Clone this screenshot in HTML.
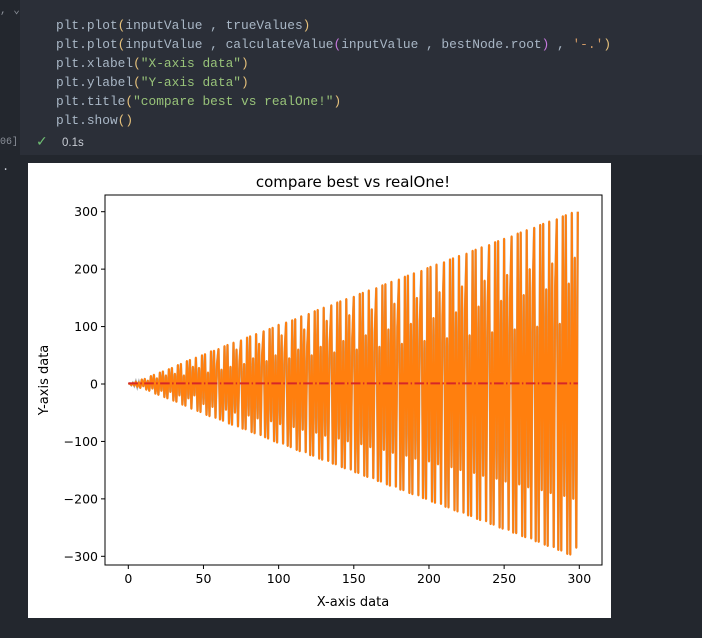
<!DOCTYPE html>
<html><head><meta charset="utf-8"><style>
body{margin:0;width:702px;height:638px;background:#23272e;overflow:hidden;position:relative;font-family:"Liberation Mono",monospace}
.cell{position:absolute;left:20px;top:0;width:682px;height:155px;background:#2b2f38}
.code{position:absolute;left:56px;top:16px;font-size:12.85px;line-height:19px;color:#a9b7c6;white-space:pre}
.y{color:#e5c07b}.p{color:#c678dd}.s{color:#98c379}.o{color:#d19a66}
.fig{position:absolute;left:28px;top:163px;width:583px;height:455px;background:#fff}
</style></head><body>
<div class="cell"></div>
<div style="position:absolute;left:0;top:3px;color:#8a8f98;font-size:11px">, ⌄</div>
<div class="code">plt.plot<span class="y">(</span>inputValue , trueValues<span class="y">)</span>
plt.plot<span class="y">(</span>inputValue , calculateValue<span class="p">(</span>inputValue , bestNode.root<span class="p">)</span> , <span class="o">'-.'</span><span class="y">)</span>
plt.xlabel<span class="y">(</span><span class="s">"X-axis data"</span><span class="y">)</span>
plt.ylabel<span class="y">(</span><span class="s">"Y-axis data"</span><span class="y">)</span>
plt.title<span class="y">(</span><span class="s">"compare best vs realOne!"</span><span class="y">)</span>
plt.show<span class="y">()</span></div>
<div style="position:absolute;left:0;top:137px;color:#8a8f98;font-size:10px">06]</div>
<div style="position:absolute;left:36px;top:134px;color:#6fbf73;font-size:14px;font-family:'DejaVu Sans',sans-serif">✓</div>
<div style="position:absolute;left:62px;top:137px;color:#c8ccd4;font-size:11.5px;font-family:'Liberation Sans',sans-serif">0.1s</div>
<div style="position:absolute;left:2px;top:160px;color:#c8ccd4;font-size:12px">.</div>
<div class="fig"></div>
<svg id="chart" width="702" height="638" style="position:absolute;left:0;top:0" font-family="DejaVu Sans, Liberation Sans, sans-serif"></svg>
<script>
const trueValues=[0,1,-2,2,-3,4,-5,3,-7,8,-4,9,-10,6,-12,
14,-8,16,-17,10,-19,20,-12,22,-23,15,-25,26,-14,28,
-29,18,-31,33,-20,35,-36,15,-38,40,-25,42,-43,30,-20,
46,-47,28,-49,50,-35,52,-54,20,-56,57,-40,58,-59,35,
61,-62,25,-64,66,-45,68,-69,30,-71,72,-50,60,-74,40,
76,-78,35,-79,81,-55,83,-84,45,-86,87,-60,70,-89,50,
92,-93,40,-95,96,-65,98,-100,50,-102,103,-70,85,-104,55,
107,-108,45,-110,111,-75,113,-115,60,-117,118,-80,95,-119,65,
122,-124,50,-125,127,-85,129,-130,65,-132,133,-90,110,-134,70,
137,-139,55,-140,142,-95,144,-145,75,-147,148,-100,120,-149,80,
152,-154,60,-155,157,-105,159,-160,85,-162,163,-110,130,-164,90,
167,-169,65,-170,172,-115,174,-175,95,-177,178,-120,140,-179,100,
182,-184,70,-185,187,-125,189,-190,105,-192,193,-130,150,-194,110,
197,-199,75,-200,202,-135,204,-205,115,-207,208,-140,160,-209,120,
212,-214,80,-215,217,-145,219,-220,125,-222,223,-150,170,-224,130,
227,-229,85,-230,232,-155,234,-235,135,-237,238,-160,180,-239,140,
242,-244,90,-245,247,-165,249,-250,145,-252,253,-170,190,-254,150,
257,-259,95,-260,262,-175,264,-265,155,-267,268,-180,200,-269,160,
272,-274,100,-275,277,-185,279,-280,165,-282,283,-190,210,-284,170,
287,-289,105,-290,292,-195,294,-296,175,-297,298,-200,220,-285,300];
const bestValue=[1,1];
const bestX=[0,299];
const xTicks=[0,50,100,150,200,250,300];
const yTicks=[-300,-200,-100,0,100,200,300];
const NS="http://www.w3.org/2000/svg";
const svg=document.getElementById('chart');
const L=105,R=602,T=195,B=565;
const nPts=trueValues.length;
const inputValue=trueValues.map((v,i)=>i*299/(nPts-1));
const sx=v=>128.3+(v)*(579.3-128.3)/300;
const sy=v=>384-v*(384-211.7)/300;
function mk(t,a){const e=document.createElementNS(NS,t);for(const k in a)e.setAttribute(k,a[k]);svg.appendChild(e);return e;}
let d=inputValue.map((x,i)=>(i?'L':'M')+sx(x).toFixed(1)+','+sy(trueValues[i]).toFixed(1)).join('');
const blue=mk('path',{d:d,fill:'none',stroke:'#aaaaaa','stroke-width':2.4});


const org=mk('path',{d:d,fill:'none',stroke:'#ff7f0e','stroke-width':2,'stroke-linejoin':'round'});


const red=mk('path',{d:'M'+sx(bestX[0])+','+sy(bestValue[0])+'L'+sx(bestX[1])+','+sy(bestValue[1]),stroke:'#d62728','stroke-width':2,'stroke-dasharray':'9.6,2.4,1.5,2.4',fill:'none'});


const fr=mk('rect',{x:L,y:T,width:R-L,height:B-T,fill:'none',stroke:'#000','stroke-width':1});


xTicks.forEach(v=>{const x=sx(v);
const tk=mk('line',{x1:x,x2:x,y1:B,y2:B+4,stroke:'#000'});


const t=mk('text',{x:x,y:B+18,'font-size':12.5,'text-anchor':'middle',fill:'#000'});t.textContent=v;

});
yTicks.forEach(v=>{const y=sy(v);
const tk=mk('line',{x1:L-4,x2:L,y1:y,y2:y,stroke:'#000'});


const t=mk('text',{x:L-7,y:y+4.5,'font-size':12.5,'text-anchor':'end',fill:'#000'});t.textContent=v<0?'\u2212'+(-v):v;

});
const ti=mk('text',{x:353,y:187,'font-size':15,'text-anchor':'middle',fill:'#000'});ti.textContent='compare best vs realOne!';


const xl=mk('text',{x:353,y:606,'font-size':13,'text-anchor':'middle',fill:'#000'});xl.textContent='X-axis data';


const yl=mk('text',{x:48,y:380,'font-size':13,'text-anchor':'middle',fill:'#000',transform:'rotate(-90 48 380)'});yl.textContent='Y-axis data';


</script>
</body></html>
